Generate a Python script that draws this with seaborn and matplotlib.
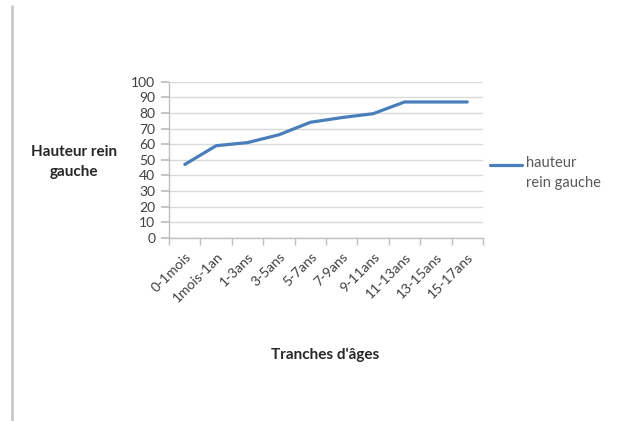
import matplotlib
matplotlib.use("Agg")
import matplotlib.pyplot as plt
from matplotlib.lines import Line2D
import seaborn as sns
import pandas as pd

# Left kidney height by age bracket
age_groups = ["0-1mois", "1mois-1an", "1-3ans", "3-5ans", "5-7ans",
              "7-9ans", "9-11ans", "11-13ans", "13-15ans", "15-17ans"]
kidney_height = [47, 59, 61, 66, 74, 77, 79.5, 87, 87, 87]
y_ticks = list(range(0, 101, 10))

series_name = "hauteur\nrein gauche"
line_color = "#4a7ebb"
text_color = "#404040"

sns.set_theme(style="white")
plt.rcParams["font.family"] = ["Lato", "DejaVu Sans"]

df = pd.DataFrame({"age": age_groups, "height": kidney_height})

fig = plt.figure(figsize=(6.24, 4.21), dpi=100)
ax = fig.add_axes([0.271, 0.435, 0.503, 0.371])

sns.lineplot(data=df, x="age", y="height", sort=False, ax=ax,
             color=line_color, linewidth=2.3, legend=False)

ax.set_xlim(-0.5, len(age_groups) - 0.5)
ax.set_ylim(0, 100)
ax.set_yticks(y_ticks)
ax.yaxis.grid(True, color="#d9d9d9", linewidth=1.0)
ax.set_axisbelow(True)

# category labels centred in bins, tick marks on bin boundaries
ax.set_xticks(range(len(age_groups)))
ax.set_xticklabels(age_groups, rotation=45, ha="right",
                   rotation_mode="anchor", fontsize=10, color=text_color)
ax.set_xticks([i - 0.5 for i in range(len(age_groups) + 1)], minor=True)
ax.tick_params(axis="x", which="major", length=0, pad=9)
ax.tick_params(axis="x", which="minor", length=5, color="#bfbfbf",
               direction="out", bottom=True)
ax.tick_params(axis="y", length=6, color="#bfbfbf", direction="out",
               left=True, labelsize=10, labelcolor=text_color, pad=4)

for side in ("top", "right"):
    ax.spines[side].set_visible(False)
for side in ("left", "bottom"):
    ax.spines[side].set_color("#bfbfbf")
    ax.spines[side].set_linewidth(1.0)

ax.set_xlabel("")
ax.set_ylabel("")
fig.text(0.118, 0.616, "Hauteur rein\ngauche", ha="center", va="center",
         fontsize=11, fontweight="bold", color="#262626", linespacing=1.55)
fig.text(0.521, 0.157, "Tranches d'âges", ha="center", va="center",
         fontsize=11, fontweight="bold", color="#262626")

# legend: line sample beside the first line of the series name
fig.add_artist(Line2D([0.785, 0.837], [0.608, 0.608],
                      transform=fig.transFigure, color=line_color,
                      linewidth=2.3))
fig.text(0.843, 0.630, series_name, ha="left", va="top",
         fontsize=10.5, color="#595959", linespacing=1.6)

# frame edge on the left of the image
fig.add_artist(Line2D([0.02, 0.02], [0.0, 0.985], transform=fig.transFigure,
                      color="#c8c8c8", linewidth=2.0))

fig.savefig("out.png", dpi=100, facecolor="white")
